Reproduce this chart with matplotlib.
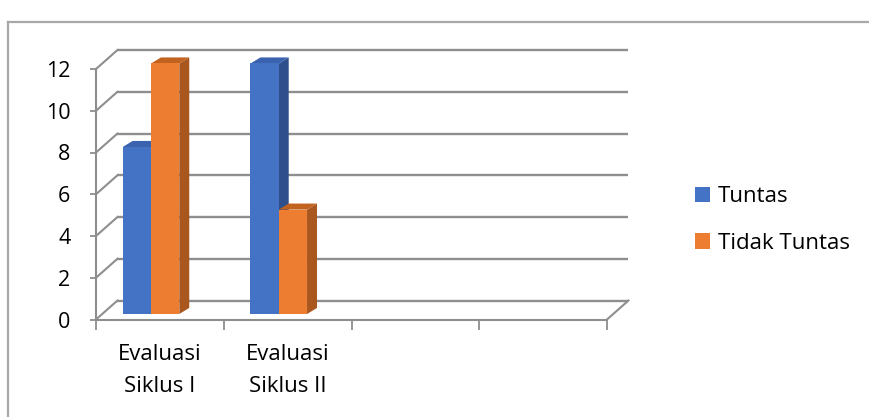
"""
Grafico de barras 3D: Tuntas vs Tidak Tuntas por siklus.
"""

import matplotlib.pyplot as plt
from matplotlib.patches import Polygon, Patch
from matplotlib.lines import Line2D

plt.rcParams["font.family"] = ["Open Sans", "DejaVu Sans"]

categories = ["Evaluasi\nSiklus I", "Evaluasi\nSiklus II", "", ""]
series_names = ["Tuntas", "Tidak Tuntas"]
tuntas = [8, 12]
tidak_tuntas = [12, 5]
y_ticks = [0, 2, 4, 6, 8, 10, 12]

face_colors = ["#4472C4", "#ED7D31"]
side_colors = ["#2F4F8C", "#A9561F"]
top_colors = ["#3A62AE", "#C2621F"]
grid_color = "#8E8E8E"

# profundidad de la pared del fondo y de las barras (en unidades de datos)
DX, DY = 0.168, 0.91
BDX, BDY = 0.078, 0.29
BAR_W = 0.2215
GROUP_OFF = 0.209
BAR_BASE = 0.264


def draw_bar(ax, x0, value, j):
    y0 = BAR_BASE
    y1 = BAR_BASE + value
    x1 = x0 + BAR_W
    front = Polygon([(x0, y0), (x1, y0), (x1, y1), (x0, y1)], closed=True,
                    facecolor=face_colors[j], edgecolor="none", clip_on=False, zorder=3)
    side = Polygon([(x1, y0), (x1 + BDX, y0 + BDY), (x1 + BDX, y1 + BDY), (x1, y1)],
                   closed=True, facecolor=side_colors[j], edgecolor="none", clip_on=False, zorder=3)
    top = Polygon([(x0, y1), (x1, y1), (x1 + BDX, y1 + BDY), (x0 + BDX, y1 + BDY)],
                  closed=True, facecolor=top_colors[j], edgecolor="none", clip_on=False, zorder=3)
    for p in (side, top, front):
        ax.add_patch(p)


fig = plt.figure(figsize=(8.69, 4.17), dpi=100)
W, H = 869, 417
ax = fig.add_axes([96 / W, (H - 319.5) / H, (607 - 96) / W, (319.5 - 69) / H])
ax.set_xlim(0, 4)
ax.set_ylim(0, 12)
ax.patch.set_visible(False)

# paredes y lineas de cuadricula
n_cat = len(categories)
for v in y_ticks:
    ax.plot([DX, n_cat + DX], [v + DY, v + DY], color=grid_color, lw=1.7,
            clip_on=False, zorder=1, solid_capstyle="butt")
    ax.plot([0, DX], [v, v + DY], color=grid_color, lw=1.5, clip_on=False, zorder=1)
ax.plot([n_cat, n_cat + DX], [0, DY], color=grid_color, lw=1.5, clip_on=False, zorder=1)

# barras
for i in range(len(tuntas)):
    for j, vals in enumerate([tuntas, tidak_tuntas]):
        draw_bar(ax, i + GROUP_OFF + j * BAR_W, vals[i], j)

# ejes
for s in ["top", "right"]:
    ax.spines[s].set_visible(False)
ax.spines["left"].set_bounds(0, 12)
for s in ["left", "bottom"]:
    ax.spines[s].set_color(grid_color)
    ax.spines[s].set_linewidth(1.5)
    ax.spines[s].set_zorder(1)

ax.set_yticks(y_ticks)
ax.set_yticklabels([str(v) for v in y_ticks])
ax.tick_params(axis="y", length=4.5, width=1.3, color=grid_color, pad=14,
               labelsize=15.5, labelcolor="#000000")

ax.set_xticks(range(n_cat + 1))
ax.set_xticklabels([])
ax.set_xticks([i + 0.5 for i in range(n_cat)], minor=True)
ax.set_xticklabels(categories, minor=True, fontsize=16, linespacing=1.65)
ax.tick_params(axis="x", which="minor", length=0, pad=18)
ax.tick_params(axis="x", which="major", length=7, width=1.3, color=grid_color)

# leyenda
handles = [Patch(facecolor=c, edgecolor="none") for c in face_colors]
fig.legend(handles, series_names, loc="center left",
           bbox_to_anchor=(695 / W, 1 - 220 / H), frameon=False, fontsize=16,
           handlelength=0.68, handleheight=0.68, handletextpad=0.35,
           labelspacing=1.15, borderpad=0, borderaxespad=0)

# marco exterior
fig.add_artist(Line2D([8 / W, 1], [1 - 22 / H, 1 - 22 / H], color="#A8A8A8", lw=1.6,
                      transform=fig.transFigure))
fig.add_artist(Line2D([8 / W, 8 / W], [0, 1 - 22 / H], color="#A8A8A8", lw=1.6,
                      transform=fig.transFigure))

fig.savefig("out.png", dpi=100)
